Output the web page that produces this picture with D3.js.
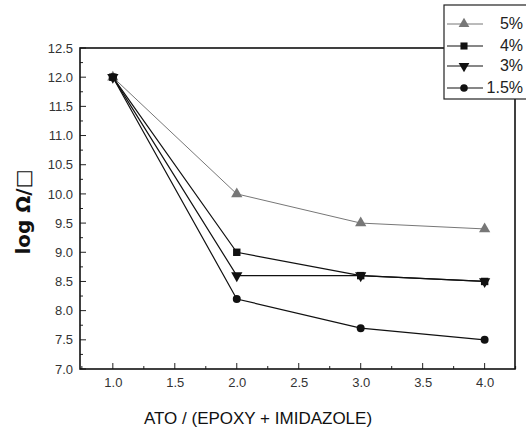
<!DOCTYPE html>
<html><head><meta charset="utf-8">
<script src="https://cdn.jsdelivr.net/npm/d3@7"></script>
<style>body{margin:0;background:#fff}svg{display:block}</style>
</head><body>
<script>
const xValues = [1.0, 2.0, 3.0, 4.0];
const seriesNames = ["5%", "4%", "3%", "1.5%"];
const s5 = [12.0, 10.0, 9.5, 9.4];
const s4 = [12.0, 9.0, 8.6, 8.5];
const s3 = [12.0, 8.6, 8.6, 8.5];
const s15 = [12.0, 8.2, 7.7, 7.5];
const yTicks = [7.0, 7.5, 8.0, 8.5, 9.0, 9.5, 10.0, 10.5, 11.0, 11.5, 12.0, 12.5];
const xTicks = [1.0, 1.5, 2.0, 2.5, 3.0, 3.5, 4.0];
const xLabel = "ATO / (EPOXY + IMIDAZOLE)";
const yLabel = "log Ω/□";

const W = 526, H = 433;
const L = 80, R = 515, T = 48, B = 369;
const svg = d3.select("body").append("svg").attr("width", W).attr("height", H);
const x = d3.scaleLinear().domain([0.735, 4.245]).range([L, R]);
const y = d3.scaleLinear().domain([7.0, 12.5]).range([B, T]);

const series = [
  {name: seriesNames[0], vals: s5, sym: d3.symbolTriangle, color: "#777", w: 1, rot: 0},
  {name: seriesNames[1], vals: s4, sym: d3.symbolSquare, color: "#111", w: 1.2, rot: 0},
  {name: seriesNames[2], vals: s3, sym: d3.symbolTriangle, color: "#111", w: 1.2, rot: 180},
  {name: seriesNames[3], vals: s15, sym: d3.symbolCircle, color: "#111", w: 1.2, rot: 0}
];

// minor ticks
const g = svg.append("g");
const yMinor = d3.range(7.0, 12.51, 0.25);
const xMinor = d3.range(0.75, 4.251, 0.25);
g.selectAll(".ym").data(yMinor).join("line")
  .attr("x1", L).attr("x2", d => L + (Math.abs(d*2 - Math.round(d*2))<1e-6 ? 6 : 3))
  .attr("y1", d => y(d)).attr("y2", d => y(d)).attr("stroke", "#222").attr("stroke-width", 1);
g.selectAll(".xm").data(xMinor).join("line")
  .attr("y1", B).attr("y2", d => B - (Math.abs(d*2 - Math.round(d*2))<1e-6 ? 6 : 3))
  .attr("x1", d => x(d)).attr("x2", d => x(d)).attr("stroke", "#222").attr("stroke-width", 1);

// axes labels via d3 axes
const yAxis = d3.axisLeft(y).tickValues(yTicks).tickFormat(d3.format(".1f")).tickSize(0).tickPadding(7);
const yg = svg.append("g").attr("transform", `translate(${L},0)`).call(yAxis);
const xAxis = d3.axisBottom(x).tickValues(xTicks).tickFormat(d3.format(".1f")).tickSize(0).tickPadding(9);
const xg = svg.append("g").attr("transform", `translate(0,${B})`).call(xAxis);
[yg, xg].forEach(a => {
  a.select(".domain").remove();
  a.selectAll("text").attr("font-family", "Liberation Sans, Arial, sans-serif").attr("font-size", 13).attr("fill", "#333");
});

// lines
const line = d3.line().x((d, i) => x(xValues[i])).y(d => y(d));
series.forEach(s => {
  svg.append("path").datum(s.vals).attr("d", line).attr("fill", "none")
    .attr("stroke", s.color).attr("stroke-width", s.w);
  svg.selectAll(null).data(s.vals).join("path")
    .attr("d", d3.symbol().type(s.sym).size(s.sym === d3.symbolCircle ? 50 : 55))
    .attr("transform", (d, i) => `translate(${x(xValues[i])},${y(d)}) rotate(${s.rot})`)
    .attr("fill", s.color);
});

// frame
svg.append("rect").attr("x", L).attr("y", T).attr("width", R - L).attr("height", B - T)
  .attr("fill", "none").attr("stroke", "#111").attr("stroke-width", 1.6);

// axis titles
svg.append("text").attr("x", 258).attr("y", 424).attr("text-anchor", "middle")
  .attr("font-family", "Liberation Sans, Arial, sans-serif").attr("font-size", 17).attr("fill", "#111")
  .text(xLabel);
svg.append("text").attr("transform", "translate(30,212) rotate(-90)").attr("text-anchor", "middle")
  .attr("font-family", "DejaVu Sans, sans-serif").attr("font-size", 20).attr("font-weight", "bold").attr("fill", "#111")
  .text(yLabel);

// legend
const lg = svg.append("g");
lg.append("rect").attr("x", 444).attr("y", 5).attr("width", 100).attr("height", 94)
  .attr("fill", "#fff").attr("stroke", "#222").attr("stroke-width", 1.2);
const ly = [24, 46, 66, 88];
series.forEach((s, i) => {
  lg.append("line").attr("x1", 447).attr("x2", 483).attr("y1", ly[i]).attr("y2", ly[i])
    .attr("stroke", s.color).attr("stroke-width", s.w);
  lg.append("path").attr("d", d3.symbol().type(s.sym).size(s.sym === d3.symbolCircle ? 45 : 50))
    .attr("transform", `translate(464,${ly[i]}) rotate(${s.rot})`).attr("fill", s.color);
  lg.append("text").attr("x", 523).attr("y", ly[i] + 5).attr("text-anchor", "end")
    .attr("font-family", "Liberation Sans, Arial, sans-serif").attr("font-size", 16).attr("fill", "#222")
    .text(s.name);
});
</script>
</body></html>
